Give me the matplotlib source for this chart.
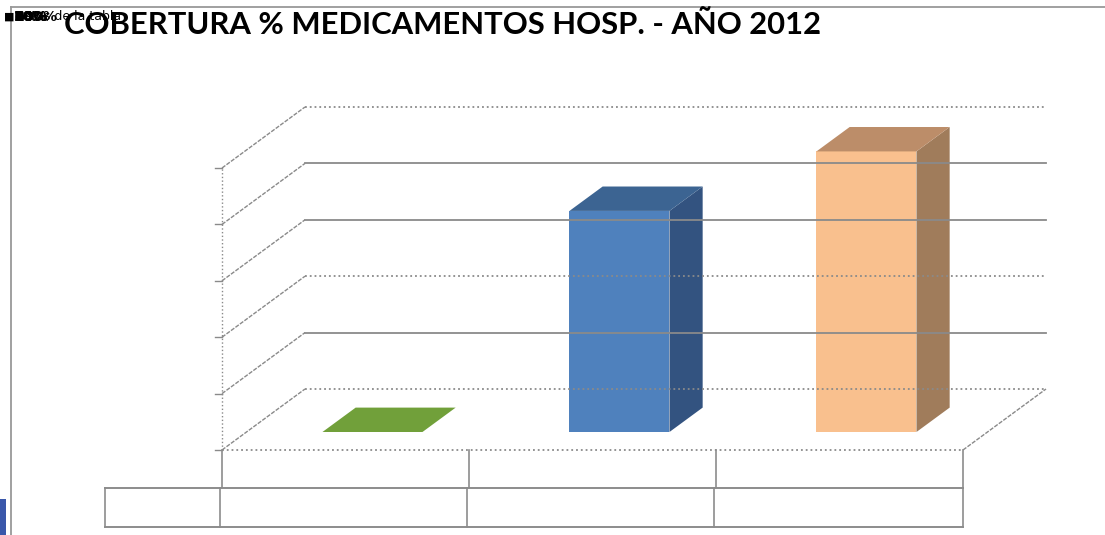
import matplotlib
matplotlib.use("Agg")
import matplotlib.pyplot as plt
from matplotlib.patches import Polygon
from matplotlib.lines import Line2D

# ---------------- data ----------------
title = "COBERTURA % MEDICAMENTOS HOSP. - AÑO 2012"
values = [0.0, 78.4, 99.5]            # cobertura %
front_colors = ["#77a33f", "#4f81bd", "#f9c08e"]
side_colors = ["#5d8230", "#335380", "#a07c5b"]
top_colors = ["#71a03a", "#3c6492", "#bc8d69"]
ticks = [0, 20, 40, 60, 80, 100]
tick_labels = ["0%", "20%", "40%", "60%", "80%", "100%"]
grid_styles = [":", "-", ":", "-", "-", ":"]

W, H = 1105, 535
fig = plt.figure(figsize=(W / 100, H / 100), dpi=100)
ax = fig.add_axes([0, 0, 1, 1])

# geometry of the front plane (pixels)
PX_LEFT, PX_RIGHT = 222.0, 963.0
PX_BASE, PX_PER_PCT = 450.0, 2.82
ncat = len(values)
px_per_cat = (PX_RIGHT - PX_LEFT) / ncat
xl = -0.5 - PX_LEFT / px_per_cat
xr = xl + W / px_per_cat
yb = -(H - PX_BASE) / PX_PER_PCT
yt = yb + H / PX_PER_PCT
ax.set_xlim(xl, xr)
ax.set_ylim(yb, yt)
ax.axis("off")

# oblique depth offset (full depth) in data units
DX = 83.0 / px_per_cat
DY = 61.0 / PX_PER_PCT

def P(x, v, d):
    return (x + d * DX, v + d * DY)

GRAY = "#8a8a8a"
x0, x1 = -0.5, ncat - 0.5

# back wall gridlines + left wall diagonals
for t, ls in zip(ticks, grid_styles):
    a, b = P(x0, t, 1), P(x1, t, 1)
    ax.plot([a[0], b[0]], [a[1], b[1]], color=GRAY, lw=1.3, ls=ls)
    c, e = P(x0, t, 0), P(x0, t, 1)
    ax.plot([c[0], e[0]], [c[1], e[1]], color=GRAY, lw=1.0, ls=(0, (3, 1)))
    # tick marks
    ax.plot([x0 - 7.0 / px_per_cat, x0], [t, t], color=GRAY, lw=1.0)

# right floor diagonal
c, e = P(x1, 0, 0), P(x1, 0, 1)
ax.plot([c[0], e[0]], [c[1], e[1]], color=GRAY, lw=1.0, ls=(0, (3, 1)))
# front floor edge and value axis
ax.plot([x0, x1], [0, 0], color=GRAY, lw=1.3, ls=":")
ax.plot([x0, x0], [0, ticks[-1]], color=GRAY, lw=1.0, ls=":")

# bars
D0, D1 = 18.0 / 61.0, 18.0 / 61.0 + 0.40
hw = 50.0 / px_per_cat
for i, v in enumerate(values):
    cx = i + 0.01
    l, r = cx - hw, cx + hw
    if v > 0:
        side = [P(r, 0, D0), P(r, 0, D1), P(r, v, D1), P(r, v, D0)]
        ax.add_patch(Polygon(side, closed=True, facecolor=side_colors[i], edgecolor="none"))
        front = [P(l, 0, D0), P(r, 0, D0), P(r, v, D0), P(l, v, D0)]
        ax.add_patch(Polygon(front, closed=True, facecolor=front_colors[i], edgecolor="none"))
    top = [P(l, v, D0), P(r, v, D0), P(r, v, D1), P(l, v, D1)]
    ax.add_patch(Polygon(top, closed=True, facecolor=top_colors[i], edgecolor="none"))

# ---------------- data table (empty) ----------------
def fx(px):
    return px / W

def fy(py):
    return 1 - py / H

TG = "#8c8c8c"
for xc in [x0 + k for k in range(ncat + 1)]:
    ax.plot([xc, xc], [0, -(487 - PX_BASE) / PX_PER_PCT], color=TG, lw=1.2)
row_x = [105, 220, 467, 714, 963]
for xp in row_x:
    fig.add_artist(Line2D([fx(xp), fx(xp)], [fy(488), fy(527)], color=TG, lw=1.2))
for yp in [488, 527]:
    fig.add_artist(Line2D([fx(105), fx(963)], [fy(yp), fy(yp)], color=TG, lw=1.4))

# ---------------- frame ----------------
fig.add_artist(Line2D([fx(11), fx(W)], [fy(7), fy(7)], color="#999999", lw=1.3))
fig.add_artist(Line2D([fx(11), fx(11)], [fy(7), fy(H)], color="#999999", lw=1.3))
fig.add_artist(plt.Rectangle((0, 0), fx(6), fy(499), transform=fig.transFigure,
                             facecolor="#3a57aa", edgecolor="none"))

# ---------------- title ----------------
fig.text(fx(443), fy(25), title, ha="center", va="center", fontsize=22.3,
         fontweight="bold", family="Lato", color="black")

# overlapping (collapsed) axis labels at top-left
fig.text(fx(4), fy(17), "■", ha="left", va="center", fontsize=8, color="black")
for lab in tick_labels:
    fig.text(fx(14), fy(17), lab, ha="left", va="center", fontsize=10,
             fontweight="bold", color="black")
fig.text(fx(14), fy(17), "Datos de la tabla", ha="left", va="center", fontsize=9,
         color="black")

fig.savefig("out.png", dpi=100)
